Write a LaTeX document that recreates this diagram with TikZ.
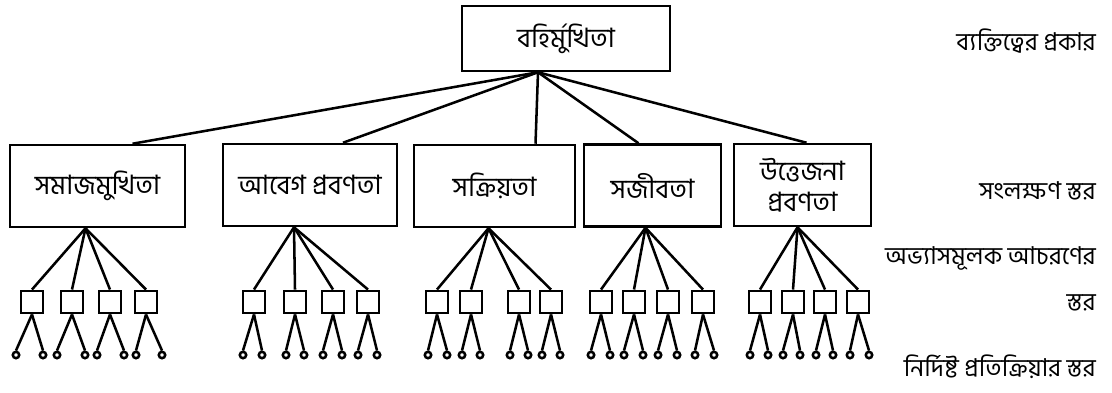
\documentclass[tikz,border=0pt]{standalone}
\usepackage{fontspec}
\newfontfamily\bangla[Script=Bengali]{Hind Siliguri}
\usetikzlibrary{positioning,calc}

\begin{document}
\begin{tikzpicture}[x=0.25mm,y=-0.25mm,line width=1.8pt,
  box/.style={draw,rectangle,inner sep=0pt,minimum height=20.5mm,align=center,font=\bangla\fontsize{19}{22}\selectfont},
  leaf/.style={draw,rectangle,inner sep=0pt,minimum size=5.6mm},
  knob/.style={draw,circle,inner sep=0pt,minimum size=1.6mm},
  level/.style={anchor=east,inner sep=0pt,font=\bangla\fontsize{17.5}{20}\selectfont}]

\useasboundingbox (0,0) rectangle (1112,392);

%type
\node[box,minimum width=52mm,minimum height=16.25mm] (top) at (566,38.5) {বহির্মুখিতা};
\coordinate (hub) at ($(top.south)+(-28,0)$);

%traits
\node[box,minimum width=43.75mm] (t1) at (97.5,186) {সমাজমুখিতা};
\node[box,minimum width=43.5mm] (t2) at (310,185) {আবেগ প্রবণতা};
\node[box,minimum width=40.25mm] (t3) at (494.5,186) {সক্রিয়তা};
\node[box,minimum width=34.25mm] (t4) at (652.5,185.5) {সজীবতা};
\node[box,minimum width=34.25mm] (t5) at (802.5,185) {উত্তেজনা\\প্রবণতা};

%type->traits
\foreach \g/\dx in {1/35,2/33,3/41,4/-14,5/4}
  \draw (hub) -- ($(t\g.north)+(\dx,0)$);

%fan points under the traits
\foreach \g/\dx in {1/-12,2/-16,3/-6,4/-7,5/-5}
  \coordinate (f\g) at ($(t\g.south)+(\dx,0)$);

%habits and responses
\foreach \g/\row in {1/{32/16/43,72/57/85,110/97/124,146/136/162},
                     2/{254/243/262,295/286/304,333/323/342,368/358/377},
                     3/{437/428/447,471/462/480,519/510/528,551/542/560},
                     4/{601/591/610,634/624/643,668/658/677,703/695/714},
                     5/{760/750/768,793/783/800,825/816/833,858/850/869}} {
  \foreach \x/\l/\r [count=\k] in \row {
    \node[leaf] (s\g\k) at (\x,302) {};
    \node[knob] (c\g\k-a) at (\l,355) {};
    \node[knob] (c\g\k-b) at (\r,355) {};
    \draw (f\g) -- (s\g\k.north);
    \draw (s\g\k.south) -- (c\g\k-a.north);
    \draw (s\g\k.south) -- (c\g\k-b.north);
  }
}

%level names
\node[level] (n1) at (1097,41) {ব্যক্তিত্বের প্রকার};
\node[level] (n2) at (1097,191) {সংলক্ষণ স্তর};
\node[level] (n3) at (1097,258) {অভ্যাসমূলক আচরণের};
\node[level] (n4) at (1097,303) {স্তর};
\node[level] (n5) at (1097,367) {নির্দিষ্ট প্রতিক্রিয়ার স্তর};

\end{tikzpicture}
\end{document}
